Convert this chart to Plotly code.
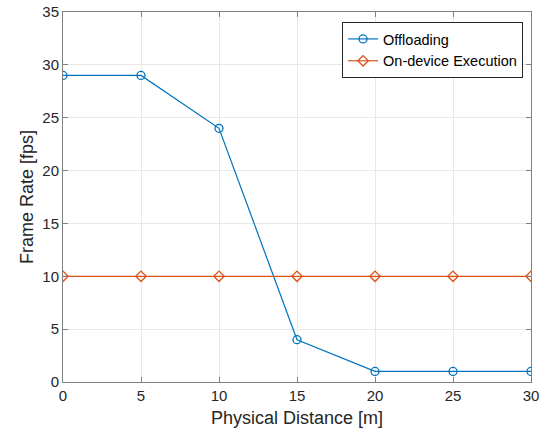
import plotly.graph_objects as go

distance = [0, 5, 10, 15, 20, 25, 30]
offloading = [29, 29, 24, 4, 1, 1, 1]
on_device = [10, 10, 10, 10, 10, 10, 10]

blue = "#0072BD"
orange = "#D95319"
axis_col = "#808080"
text_col = "#262626"

fig = go.Figure()
fig.add_trace(go.Scatter(
    x=distance, y=offloading, name="Offloading", mode="lines+markers",
    line=dict(color=blue, width=1.2),
    marker=dict(symbol="circle-open", size=8, color=blue, line=dict(width=1.3)),
))
fig.add_trace(go.Scatter(
    x=distance, y=on_device, name="On-device Execution", mode="lines+markers",
    line=dict(color=orange, width=1.2),
    marker=dict(symbol="diamond-open", size=8, color=orange, line=dict(width=1.3)),
))

axis_common = dict(
    showline=True, linecolor=axis_col, linewidth=1, mirror="ticks",
    ticks="inside", ticklen=5, tickcolor=axis_col,
    showgrid=True, gridcolor="#E8E8E8", gridwidth=1,
    zeroline=False, automargin=False,
    tickfont=dict(size=15, color=text_col),
)

fig.update_layout(
    width=549, height=432,
    margin=dict(l=63, r=18, t=12, b=50),
    paper_bgcolor="white", plot_bgcolor="white",
    font=dict(family="Liberation Sans, Arial, Helvetica, sans-serif", color=text_col),
    xaxis=dict(range=[0, 30], dtick=5, **axis_common),
    yaxis=dict(range=[0, 35], dtick=5, **axis_common),
    legend=dict(x=0.983, y=0.973, xanchor="right", yanchor="top",
                bordercolor=text_col, borderwidth=1, bgcolor="white",
                font=dict(size=14.5, color="black"), tracegroupgap=0, itemwidth=30),
    showlegend=True,
    annotations=[
        dict(text="Physical Distance [m]", xref="paper", yref="paper", x=0.5, y=0,
             yshift=-36, xanchor="center", yanchor="middle", showarrow=False,
             font=dict(size=18, color=text_col)),
        dict(text="Frame Rate [fps]", xref="paper", yref="paper", x=0, y=0.5,
             xshift=-36, xanchor="center", yanchor="middle", showarrow=False,
             textangle=-90, font=dict(size=18, color=text_col)),
    ],
)

fig.write_html(
    "out.html",
    config={"displayModeBar": False},
    post_script="document.body.style.margin='0';document.documentElement.style.overflow='hidden';",
)
